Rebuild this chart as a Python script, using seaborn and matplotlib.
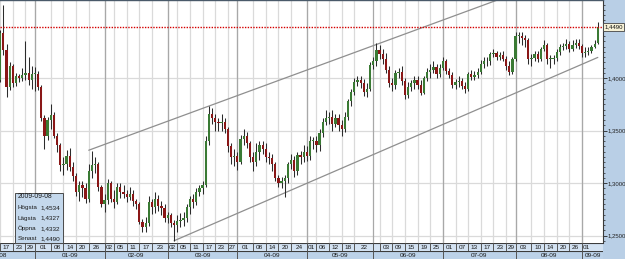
"""EUR/USD daily candlesticks with a hand-drawn trend channel, Dec 2008 - Sep 2009."""

import matplotlib

matplotlib.use("Agg")
import matplotlib.pyplot as plt
import numpy as np
import pandas as pd
import seaborn as sns
from matplotlib.patches import Rectangle
from matplotlib.ticker import FuncFormatter, MultipleLocator

# one candle per trading day
DATES = pd.bdate_range("2008-12-17", "2009-09-08")

OPEN = [
    1.398, 1.443, 1.427, 1.392, 1.412, 1.395, 1.402, 1.400, 1.403, 1.405,
    1.398, 1.404, 1.404, 1.392, 1.362, 1.345, 1.360, 1.365, 1.345, 1.336,
    1.317, 1.318, 1.326, 1.315, 1.307, 1.292, 1.298, 1.295, 1.285, 1.312,
    1.317, 1.318, 1.296, 1.280, 1.284, 1.300, 1.285, 1.282, 1.296, 1.292,
    1.290, 1.287, 1.290, 1.283, 1.280, 1.263, 1.258, 1.262, 1.282, 1.277,
    1.285, 1.278, 1.276, 1.267, 1.270, 1.262, 1.260, 1.264, 1.265, 1.267,
    1.277, 1.285, 1.282, 1.292, 1.295, 1.298, 1.340, 1.366, 1.362, 1.358,
    1.357, 1.358, 1.352, 1.335, 1.325, 1.326, 1.320, 1.342, 1.345, 1.338,
    1.325, 1.320, 1.330, 1.336, 1.333, 1.325, 1.324, 1.318, 1.305, 1.300,
    1.302, 1.305, 1.318, 1.322, 1.312, 1.327, 1.325, 1.330, 1.326, 1.340,
    1.340, 1.336, 1.348, 1.358, 1.362, 1.363, 1.356, 1.362, 1.355, 1.352,
    1.363, 1.378, 1.387, 1.396, 1.398, 1.395, 1.387, 1.390, 1.413, 1.416,
    1.427, 1.423, 1.418, 1.408, 1.395, 1.394, 1.405, 1.406, 1.397, 1.384,
    1.392, 1.395, 1.398, 1.394, 1.386, 1.400, 1.406, 1.408, 1.411, 1.404,
    1.410, 1.416, 1.407, 1.403, 1.394, 1.396, 1.397, 1.393, 1.390, 1.404,
    1.401, 1.403, 1.406, 1.414, 1.416, 1.416, 1.423, 1.424, 1.420, 1.422,
    1.418, 1.412, 1.406, 1.418, 1.440, 1.440, 1.438, 1.436, 1.418, 1.419,
    1.423, 1.418, 1.428, 1.432, 1.418, 1.418, 1.419, 1.425, 1.430, 1.431,
    1.433, 1.428, 1.432, 1.434, 1.431, 1.424, 1.425, 1.426, 1.430, 1.4332,
]
HIGH = [
    1.446, 1.470, 1.433, 1.415, 1.414, 1.405, 1.404, 1.410, 1.435, 1.420,
    1.412, 1.411, 1.407, 1.394, 1.365, 1.363, 1.375, 1.368, 1.348, 1.338,
    1.325, 1.332, 1.334, 1.320, 1.310, 1.302, 1.302, 1.300, 1.318, 1.331,
    1.325, 1.320, 1.298, 1.290, 1.304, 1.302, 1.294, 1.300, 1.300, 1.298,
    1.294, 1.296, 1.294, 1.285, 1.282, 1.266, 1.268, 1.288, 1.285, 1.292,
    1.289, 1.283, 1.280, 1.273, 1.272, 1.265, 1.270, 1.272, 1.273, 1.280,
    1.288, 1.290, 1.295, 1.298, 1.302, 1.345, 1.374, 1.372, 1.366, 1.362,
    1.366, 1.362, 1.354, 1.338, 1.333, 1.330, 1.346, 1.352, 1.349, 1.340,
    1.330, 1.338, 1.340, 1.340, 1.338, 1.330, 1.328, 1.320, 1.308, 1.306,
    1.308, 1.320, 1.328, 1.326, 1.330, 1.331, 1.336, 1.335, 1.345, 1.344,
    1.345, 1.352, 1.362, 1.370, 1.368, 1.370, 1.366, 1.366, 1.360, 1.368,
    1.380, 1.390, 1.400, 1.402, 1.402, 1.399, 1.395, 1.415, 1.420, 1.434,
    1.432, 1.428, 1.424, 1.412, 1.400, 1.408, 1.410, 1.412, 1.400, 1.396,
    1.398, 1.402, 1.402, 1.398, 1.402, 1.410, 1.414, 1.416, 1.414, 1.414,
    1.420, 1.418, 1.410, 1.406, 1.399, 1.402, 1.400, 1.396, 1.406, 1.408,
    1.407, 1.410, 1.417, 1.420, 1.420, 1.425, 1.428, 1.426, 1.425, 1.426,
    1.421, 1.416, 1.420, 1.444, 1.444, 1.444, 1.441, 1.438, 1.423, 1.426,
    1.426, 1.430, 1.436, 1.434, 1.422, 1.422, 1.428, 1.433, 1.434, 1.437,
    1.435, 1.436, 1.437, 1.437, 1.433, 1.430, 1.430, 1.432, 1.436, 1.4534,
]
LOW = [
    1.396, 1.422, 1.382, 1.389, 1.392, 1.393, 1.396, 1.397, 1.398, 1.394,
    1.390, 1.388, 1.389, 1.359, 1.333, 1.341, 1.352, 1.343, 1.330, 1.312,
    1.308, 1.313, 1.312, 1.302, 1.288, 1.283, 1.287, 1.281, 1.282, 1.305,
    1.310, 1.293, 1.277, 1.273, 1.280, 1.282, 1.276, 1.280, 1.286, 1.286,
    1.282, 1.284, 1.278, 1.275, 1.261, 1.254, 1.254, 1.259, 1.271, 1.272,
    1.274, 1.270, 1.263, 1.262, 1.258, 1.2452, 1.254, 1.258, 1.259, 1.263,
    1.271, 1.276, 1.279, 1.288, 1.290, 1.296, 1.336, 1.356, 1.350, 1.350,
    1.350, 1.348, 1.330, 1.318, 1.316, 1.313, 1.318, 1.336, 1.334, 1.320,
    1.312, 1.316, 1.322, 1.328, 1.320, 1.318, 1.312, 1.302, 1.296, 1.295,
    1.2867, 1.300, 1.314, 1.306, 1.308, 1.318, 1.320, 1.321, 1.322, 1.333,
    1.330, 1.331, 1.344, 1.355, 1.356, 1.350, 1.354, 1.350, 1.345, 1.349,
    1.360, 1.374, 1.384, 1.393, 1.391, 1.383, 1.382, 1.388, 1.409, 1.412,
    1.418, 1.414, 1.405, 1.392, 1.388, 1.390, 1.400, 1.394, 1.380, 1.381,
    1.388, 1.390, 1.390, 1.384, 1.385, 1.397, 1.400, 1.405, 1.400, 1.401,
    1.408, 1.404, 1.400, 1.391, 1.390, 1.392, 1.390, 1.386, 1.388, 1.398,
    1.398, 1.400, 1.404, 1.410, 1.412, 1.413, 1.420, 1.417, 1.417, 1.416,
    1.408, 1.403, 1.404, 1.416, 1.434, 1.432, 1.430, 1.414, 1.412, 1.416,
    1.415, 1.416, 1.426, 1.414, 1.410, 1.414, 1.416, 1.422, 1.427, 1.428,
    1.425, 1.426, 1.429, 1.428, 1.420, 1.420, 1.422, 1.424, 1.429, 1.4327,
]
CLOSE = [
    1.443, 1.427, 1.392, 1.412, 1.395, 1.402, 1.400, 1.403, 1.405, 1.398,
    1.404, 1.404, 1.392, 1.362, 1.345, 1.360, 1.365, 1.345, 1.336, 1.317,
    1.318, 1.326, 1.315, 1.307, 1.292, 1.298, 1.295, 1.285, 1.312, 1.317,
    1.318, 1.296, 1.280, 1.284, 1.300, 1.285, 1.282, 1.296, 1.292, 1.290,
    1.287, 1.290, 1.283, 1.280, 1.263, 1.258, 1.262, 1.282, 1.277, 1.285,
    1.278, 1.276, 1.267, 1.270, 1.262, 1.260, 1.264, 1.265, 1.267, 1.277,
    1.285, 1.282, 1.292, 1.295, 1.298, 1.340, 1.366, 1.362, 1.358, 1.357,
    1.358, 1.352, 1.335, 1.325, 1.326, 1.320, 1.342, 1.345, 1.338, 1.325,
    1.320, 1.330, 1.336, 1.333, 1.325, 1.324, 1.318, 1.305, 1.300, 1.302,
    1.305, 1.318, 1.322, 1.312, 1.327, 1.325, 1.330, 1.326, 1.340, 1.340,
    1.336, 1.348, 1.358, 1.362, 1.363, 1.356, 1.362, 1.355, 1.352, 1.363,
    1.378, 1.387, 1.396, 1.398, 1.395, 1.387, 1.390, 1.413, 1.416, 1.427,
    1.423, 1.418, 1.408, 1.395, 1.394, 1.405, 1.406, 1.397, 1.384, 1.392,
    1.395, 1.398, 1.394, 1.386, 1.400, 1.406, 1.408, 1.411, 1.404, 1.410,
    1.416, 1.407, 1.403, 1.394, 1.396, 1.397, 1.393, 1.390, 1.404, 1.401,
    1.403, 1.406, 1.414, 1.416, 1.416, 1.423, 1.424, 1.420, 1.422, 1.418,
    1.412, 1.406, 1.418, 1.440, 1.440, 1.438, 1.436, 1.418, 1.419, 1.423,
    1.418, 1.428, 1.432, 1.418, 1.418, 1.419, 1.425, 1.430, 1.431, 1.433,
    1.428, 1.432, 1.434, 1.431, 1.424, 1.425, 1.426, 1.430, 1.433, 1.4490,
]

DAY_TICKS = [
    "2008-12-17", "2008-12-23", "2008-12-29",
    "2009-01-01", "2009-01-08", "2009-01-14", "2009-01-20", "2009-01-26",
    "2009-02-02", "2009-02-05", "2009-02-11", "2009-02-17", "2009-02-23",
    "2009-03-02", "2009-03-05", "2009-03-11", "2009-03-17", "2009-03-23", "2009-03-27",
    "2009-04-01", "2009-04-08", "2009-04-14", "2009-04-20", "2009-04-24",
    "2009-05-01", "2009-05-06", "2009-05-12", "2009-05-18", "2009-05-22",
    "2009-06-03", "2009-06-09", "2009-06-15", "2009-06-19", "2009-06-25",
    "2009-07-01", "2009-07-07", "2009-07-13", "2009-07-17", "2009-07-23", "2009-07-29",
    "2009-08-03", "2009-08-10", "2009-08-14", "2009-08-20", "2009-08-26",
    "2009-09-01",
]
MONTH_LABELS = ["12-08", "01-09", "02-09", "03-09", "04-09", "05-09",
                "06-09", "07-09", "08-09", "09-09"]

CHANNEL_UPPER_DATES = ["2009-01-26", "2009-08-12"]
CHANNEL_UPPER_PRICES = [1.3314, 1.4886]
CHANNEL_LOWER_DATES = ["2009-03-04", "2009-09-08"]
CHANNEL_LOWER_PRICES = [1.2452, 1.4198]

LAST_PRICE = 1.4490
INFO_DATE = "2009-09-08"
INFO_LABELS = ["Högsta", "Lägsta", "Öppna", "Senast"]
INFO_VALUES = ["1,4534", "1,4327", "1,4332", "1,4490"]
Y_TICKS = [1.25, 1.30, 1.35, 1.40]

UP_COLOR = "#3a7a34"
DOWN_COLOR = "#8a1717"
WICK_COLOR = "#2b2b2b"
PANEL_COLOR = "#b9cfe6"
GRID_COLOR = "#dadada"
MONTH_LINE_COLOR = "#a8a8a8"
TEXT_COLOR = "#1a1a1a"

W, H = 625, 259
PLOT_RIGHT = 603
PLOT_BOTTOM = 243


def fx(px):
    return px / W


def fy(py):
    return 1 - py / H


def price_fmt(v, _pos=None):
    return f"{v:.4f}".replace(".", ",")


sns.set_style("white")
plt.rcParams["font.family"] = ["Liberation Sans", "DejaVu Sans"]

fig = plt.figure(figsize=(W / 100, H / 100), dpi=100)
fig.patch.set_facecolor(PANEL_COLOR)

ax = fig.add_axes([0, fy(PLOT_BOTTOM), fx(PLOT_RIGHT), PLOT_BOTTOM / H])
ax.set_facecolor("white")

idx = np.arange(len(DATES))
o = np.array(OPEN)
h = np.array(HIGH)
lo = np.array(LOW)
c = np.array(CLOSE)

ax.set_xlim(-0.06, 190.64)
ax.set_ylim(1.24305, 1.47448)

# grid
for yv in Y_TICKS:
    ax.axhline(yv, color=GRID_COLOR, lw=0.9, zorder=0)
tick_pos = DATES.get_indexer(pd.to_datetime(DAY_TICKS))
month_start = pd.Series(idx, index=DATES).groupby([DATES.year, DATES.month]).first().values[1:]
for p in tick_pos:
    ax.axvline(p, color=GRID_COLOR, lw=0.9, zorder=0)
for p in month_start:
    ax.axvline(p, color=MONTH_LINE_COLOR, lw=0.9, zorder=0)

# candles
up = c >= o
ax.vlines(idx, lo, h, color=WICK_COLOR, lw=0.75, zorder=2)
body_lo = np.minimum(o, c)
body_h = np.maximum(np.abs(c - o), 0.0008)
ax.bar(idx, body_h, bottom=body_lo, width=0.72,
       color=np.where(up, UP_COLOR, DOWN_COLOR), lw=0, zorder=3)

# trend channel
up_pos = DATES.get_indexer(pd.to_datetime(CHANNEL_UPPER_DATES))
lo_pos = DATES.get_indexer(pd.to_datetime(CHANNEL_LOWER_DATES))
sns.lineplot(x=up_pos, y=CHANNEL_UPPER_PRICES, ax=ax, color="#8f8f8f", lw=0.9, zorder=1)
sns.lineplot(x=lo_pos, y=CHANNEL_LOWER_PRICES, ax=ax, color="#8f8f8f", lw=0.9, zorder=1)

# last price line
ax.axhline(LAST_PRICE, color="#d40000", lw=1.0, ls=(0, (1, 1)), zorder=4)

# right price axis
ax.yaxis.tick_right()
ax.set_yticks(Y_TICKS)
ax.yaxis.set_major_formatter(FuncFormatter(price_fmt))
ax.yaxis.set_minor_locator(MultipleLocator(0.005))
ax.tick_params(axis="y", which="major", direction="out", length=3, width=0.6,
               colors="#222222", labelsize=4.3, pad=0.3)
ax.tick_params(axis="y", which="minor", direction="out", length=1.5, width=0.5,
               colors="#222222")
ax.tick_params(axis="x", bottom=False, labelbottom=False)
ax.set_xlabel("")
ax.set_ylabel("")
for side in ["left", "bottom"]:
    ax.spines[side].set_visible(False)
ax.spines["right"].set_color("#3a3a3a")
ax.spines["right"].set_linewidth(0.8)
ax.spines["top"].set_color("#4a5a6a")
ax.spines["top"].set_linewidth(1.0)

ax.annotate(price_fmt(LAST_PRICE), xy=(1.0, LAST_PRICE), xycoords=("axes fraction", "data"),
            xytext=(1.0, 0), textcoords="offset points", fontsize=4.3, va="center",
            ha="left", color="#111111",
            bbox=dict(boxstyle="square,pad=0.25", fc="#f6f1d6", ec="#444444", lw=0.6),
            annotation_clip=False, zorder=6)

# info box
fig.add_artist(Rectangle((fx(15), fy(243)), fx(48), 50 / H, transform=fig.transFigure,
                         fc="#c4d8ec", ec="#4a4a4a", lw=0.7, zorder=5))
fig.text(fx(18), fy(196.5), INFO_DATE, fontsize=4.9, va="center", color=TEXT_COLOR, zorder=6)
for k, (lab, val) in enumerate(zip(INFO_LABELS, INFO_VALUES)):
    yy = fy(208 + 10.2 * k)
    fig.text(fx(18), yy, lab, fontsize=4.5, va="center", color=TEXT_COLOR, zorder=6)
    fig.text(fx(40), yy, val, fontsize=4.6, va="center", color=TEXT_COLOR, zorder=6)

# date rows
ax_days = fig.add_axes([0, fy(251), fx(PLOT_RIGHT), 8 / H])
ax_months = fig.add_axes([0, 0, fx(PLOT_RIGHT), 8 / H])
for a, bg in [(ax_days, "#d3e2f2"), (ax_months, "#bcd2e9")]:
    a.set_xlim(ax.get_xlim())
    a.set_ylim(0, 1)
    a.set_facecolor(bg)
    a.set_xticks([])
    a.set_yticks([])
    for s in a.spines.values():
        s.set_visible(False)
    a.axhline(1, color="#3c3c3c", lw=0.8)

day_edges = sorted(set(tick_pos.tolist()) | set(month_start.tolist()))
for p in day_edges:
    ax_days.axvline(p, color="#555555", lw=0.7)
for p in tick_pos:
    later = [e for e in day_edges if e > p]
    end = later[0] if later else p + 2.5
    ax_days.text((p + end) / 2, 0.45, DATES[p].strftime("%d"), fontsize=4.6,
                 ha="center", va="center", color=TEXT_COLOR, clip_on=True)

month_edges = [-12] + list(month_start) + [ax.get_xlim()[1]]
for k, lab in enumerate(MONTH_LABELS):
    left, right = month_edges[k], month_edges[k + 1]
    if k > 0:
        ax_months.axvline(left, color="#555555", lw=0.7)
    ax_months.text((left + right) / 2, 0.45, lab, fontsize=4.6, ha="center", va="center",
                   color=TEXT_COLOR, clip_on=True)

fig.savefig("out.png", dpi=100, facecolor=fig.get_facecolor())
